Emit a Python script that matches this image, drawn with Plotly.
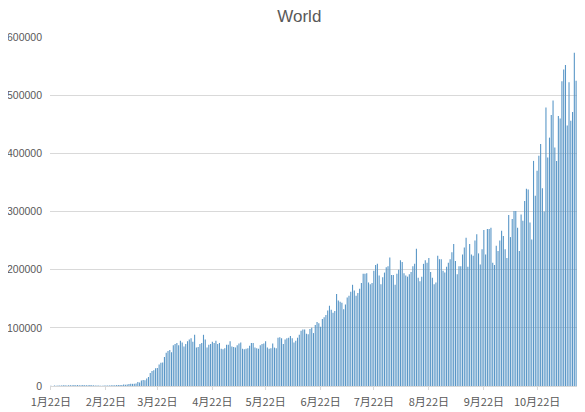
#!/usr/bin/env python3

import pandas as pd
import plotly.graph_objects as go

CHARTTITLE = "World"
START_DATE = "2020-01-22"

# daily new cases, month by month
JAN_FEB = [550, 100, 650, 600, 700, 800, 900, 1100, 1200, 1000,
           1500, 1200, 1400, 1700, 1500, 1600, 1500, 1200, 1700, 1500,
           1400, 1300, 1600, 1200, 1100, 900, 800, 700, 500, 600,
           700, 800, 900, 1000, 1100, 1200, 1300, 1500, 1700]
MAR = [1800, 1900, 2400, 2200, 2700, 3300, 3900, 3700, 3800, 4500,
       6800, 6000, 9500, 10500, 9800, 13000, 15500, 22500, 26000, 27000,
       30500, 31000, 37000, 40000, 40500, 50000, 57000, 60000, 62000, 58000, 70000]
APR = [72000, 74000, 70000, 78000, 75000, 68000, 72000, 77000, 80000, 82000,
       76000, 88000, 66000, 67000, 72000, 74000, 88000, 80000, 66000, 71000,
       72000, 76000, 74000, 78000, 72000, 74000, 64000, 63000, 65000, 71000]
MAY = [71000, 77000, 68000, 67000, 66000, 70000, 73000, 75000, 64000, 63000,
       64000, 65000, 69000, 74000, 74000, 66000, 65000, 64000, 70000, 72000,
       73000, 77000, 66000, 64000, 65000, 73000, 66000, 65000, 83000, 84000, 82000]
JUN = [72000, 80000, 82000, 83000, 86000, 82000, 75000, 78000, 83000, 88000,
       95000, 97000, 97000, 90000, 89000, 98000, 100000, 91000, 105000, 110000,
       108000, 102000, 115000, 118000, 122000, 130000, 138000, 131000, 126000, 129000]
JUL = [158000, 147000, 145000, 143000, 132000, 140000, 152000, 155000, 162000, 174000,
       164000, 155000, 160000, 167000, 177000, 193000, 193000, 194000, 178000, 175000,
       177000, 198000, 208000, 210000, 190000, 175000, 187000, 195000, 204000, 206000, 221000]
AUG = [191000, 191000, 174000, 193000, 200000, 216000, 213000, 194000, 190000, 188000,
       192000, 196000, 206000, 210000, 236000, 186000, 180000, 188000, 210000, 216000,
       212000, 220000, 196000, 186000, 175000, 178000, 224000, 218000, 218000, 198000, 195000]
SEP = [205000, 212000, 218000, 230000, 244000, 215000, 192000, 206000, 206000, 226000,
       238000, 255000, 205000, 244000, 226000, 224000, 250000, 261000, 228000, 209000,
       235000, 268000, 226000, 270000, 270000, 272000, 212000, 208000, 241000, 232000]
OCT = [250000, 267000, 258000, 235000, 220000, 294000, 256000, 287000, 301000, 301000,
       272000, 232000, 295000, 284000, 318000, 339000, 338000, 281000, 252000, 387000,
       327000, 370000, 396000, 416000, 340000, 300000, 479000, 393000, 427000, 466000, 491000]
NOV = [410000, 387000, 464000, 460000, 524000, 544000, 552000, 448000, 522000, 456000,
       471000, 573000, 525000]

TICK_DATES = ["2020-01-22", "2020-02-22", "2020-03-22", "2020-04-22", "2020-05-22",
              "2020-06-22", "2020-07-22", "2020-08-22", "2020-09-22", "2020-10-22"]
TICK_LABELS = ["1月22日", "2月22日", "3月22日", "4月22日", "5月22日",
               "6月22日", "7月22日", "8月22日", "9月22日", "10月22日"]
Y_TICKS = [0, 100000, 200000, 300000, 400000, 500000, 600000]

DAY_MS = 86400000


def generateWorldChart():
    cases = JAN_FEB + MAR + APR + MAY + JUN + JUL + AUG + SEP + OCT + NOV
    dates = pd.date_range(START_DATE, periods=len(cases), freq="D")

    # alpha just under 1 keeps plotly from widening the thin bars, so gaps stay
    fig = go.Figure(go.Bar(x=dates, y=cases, marker_color="rgba(88,150,198,0.99)",
                           marker_line_width=0, width=0.62 * DAY_MS))

    # page body has an 8px margin, so the figure is kept inside the window
    fig.update_layout(
        width=569, height=404,
        margin=dict(l=42, r=0, t=29, b=26),
        paper_bgcolor="white", plot_bgcolor="white",
        showlegend=False,
        font=dict(family="Noto Sans CJK SC, Liberation Sans, sans-serif",
                  size=11, color="#595959"),
        title=dict(text=CHARTTITLE, x=0.512, xanchor="center", y=0.981, yanchor="middle",
                   font=dict(family="Liberation Sans, Noto Sans, sans-serif",
                             size=17, color="#595959")),
    )
    fig.update_xaxes(
        type="date",
        range=[dates[0] - pd.Timedelta(hours=12), dates[-1] + pd.Timedelta(hours=12)],
        tickvals=pd.to_datetime(TICK_DATES), ticktext=TICK_LABELS,
        showgrid=False, showline=True, linecolor="#d9d9d9", linewidth=1,
        ticks="outside", ticklen=3, tickcolor="#d9d9d9", ticklabelstandoff=3,
        tickfont=dict(size=11, color="#595959"),
    )
    fig.update_yaxes(
        range=[0, 600000], tickvals=Y_TICKS, tickformat="d",
        showgrid=True, gridcolor="#d9d9d9", gridwidth=1,
        zeroline=False, showline=False, ticks="", ticklabelstandoff=7,
        automargin=False,
        tickfont=dict(family="Liberation Sans, sans-serif", size=10.5, color="#595959"),
    )

    fig.write_html("out.html")


if __name__ == "__main__":
    generateWorldChart()
